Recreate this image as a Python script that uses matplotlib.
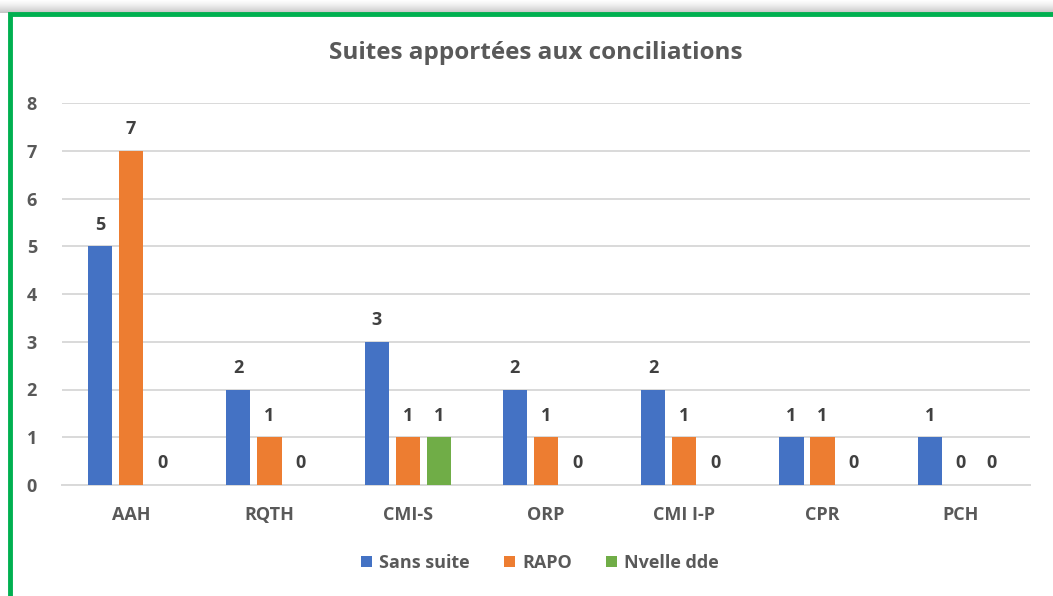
import numpy as np
import matplotlib.pyplot as plt
from matplotlib.patches import Rectangle

plt.rcParams['font.family'] = ['Open Sans', 'DejaVu Sans']

categories = ["AAH", "RQTH", "CMI-S", "ORP", "CMI I-P", "CPR", "PCH"]
sans_suite = [5, 2, 3, 2, 2, 1, 1]
rapo = [7, 1, 1, 1, 1, 1, 0]
nvelle_dde = [0, 0, 1, 0, 0, 0, 0]

series = [("Sans suite", sans_suite, "#4472C4"),
          ("RAPO", rapo, "#ED7D31"),
          ("Nvelle dde", nvelle_dde, "#70AD47")]

W, H = 1053, 596
fig = plt.figure(figsize=(W / 100, H / 100), dpi=100)

# shadow above the frame
sh = fig.add_axes([0, 1 - 13 / H, 1, 13 / H])
grad = np.linspace(0.0, 0.55, 50).reshape(-1, 1)
sh.imshow(grad, cmap="Greys", vmin=0, vmax=1.6,
          aspect="auto", extent=[0, 1, 0, 1])
sh.axis("off")

# green frame
fig.patches.append(Rectangle((10 / W, -0.05), 1.1, 1 - 14 / H + 0.05,
                             transform=fig.transFigure, fill=False,
                             edgecolor="#00B050", linewidth=3.5, zorder=5))

ax = fig.add_axes([62 / W, 1 - 485 / H, (1030 - 62) / W, (485 - 103) / H])
x = np.arange(len(categories))
width = 0.175
step = 0.225
for i, (name, vals, col) in enumerate(series):
    pos = x + (i - 1) * step
    bars = ax.bar(pos, vals, width, color=col, label=name, zorder=3)
    for b, v in zip(bars, vals):
        ax.annotate(str(v), (b.get_x() + b.get_width() / 2, v),
                    xytext=(0, 9), textcoords="offset points",
                    ha="center", va="bottom", fontsize=13,
                    fontweight="bold", color="#404040")

ax.set_xlim(-0.5, len(categories) - 0.5)
ax.set_ylim(0, 8)
ax.set_yticks(range(0, 9))
ax.yaxis.grid(True, color="#D9D9D9", linewidth=1.4, zorder=0)
ax.set_axisbelow(True)
for s in ["top", "right", "left"]:
    ax.spines[s].set_visible(False)
ax.spines["bottom"].set_color("#D9D9D9")
ax.spines["bottom"].set_linewidth(1.4)
ax.tick_params(axis="both", length=0, labelsize=13, labelcolor="#595959")
ax.tick_params(axis="y", pad=18)
ax.tick_params(axis="x", pad=15)
ax.set_xticks(x)
ax.set_xticklabels(categories)
for t in ax.get_xticklabels() + ax.get_yticklabels():
    t.set_fontweight("bold")

fig.text(536 / W, 1 - 53 / H, "Suites apportées aux conciliations",
         ha="center", va="center", fontsize=17.5, fontweight="bold",
         color="#595959")

leg = fig.legend(loc="center", bbox_to_anchor=(540 / W, 1 - 563 / H),
                 ncol=3, frameon=False, fontsize=13, handlelength=0.6,
                 handleheight=0.6, handletextpad=0.4, columnspacing=1.9)
for t in leg.get_texts():
    t.set_color("#595959")
    t.set_fontweight("bold")

fig.savefig("out.png", dpi=100)
